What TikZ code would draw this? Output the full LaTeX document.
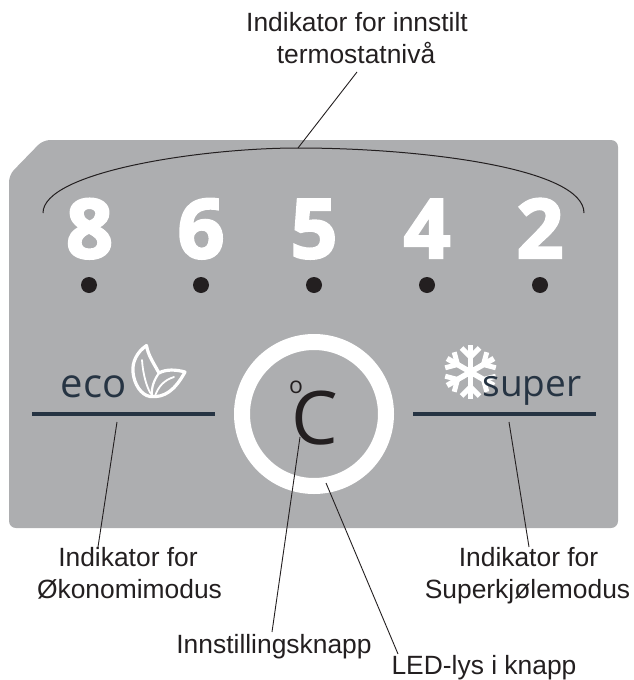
\documentclass[tikz,border=0pt]{standalone}
\usepackage{fontspec}
\setmainfont{Liberation Sans}
\newfontfamily\dispfont{Open Sans}
\newfontfamily\heavyfont[FakeBold=3]{Open Sans Bold}
\definecolor{panelgray}{HTML}{ADAEB0}
\definecolor{inkblack}{HTML}{231F20}
\definecolor{navyink}{HTML}{263443}
\tikzset{
  x=1pt,y=-1pt,
  label text/.style={anchor=base,inner sep=0pt,text=inkblack,font=\fontsize{26.4}{30}\selectfont},
  digit/.style={anchor=base,inner sep=0pt,text=white,font=\heavyfont\fontsize{82}{90}\selectfont},
  led/.style={circle,fill=inkblack,minimum size=16pt,inner sep=0pt},
  leader/.style={draw=inkblack,line width=0.9pt},
  bar/.style={draw=navyink,line width=4pt},
  brand/.style={anchor=base,inner sep=0pt,text=navyink},
  iconline/.style={draw=white,line join=round,line cap=round},
}
\begin{document}
\begin{tikzpicture}
\useasboundingbox (0,0) rectangle (634,680);
% panel
\fill[panelgray,rounded corners=7pt] (43,140) -- (618,140) -- (618,528) -- (9,528) -- (9,175) -- cycle;
% digits
\node[digit] (d8) at (89.5,258) {8};
\node[digit] (d6) at (201,258) {6};
\node[digit] (d5) at (314,258) {5};
\node[digit] (d4) at (427,258) {4};
\node[digit] (d2) at (540,258) {2};
\foreach \n/\x in {a/89,b/201,c/314,e/427,f/540}{\node[led] (led\n) at (\x,285) {};}
% bracket
\draw[inkblack,line width=1pt] (43,213) .. controls (43,172) and (200,148) .. (298,148)
   coordinate (archtop) .. controls (420,148) and (584,168) .. (584,213);
% eco
\node[brand,font=\dispfont\fontsize{40}{44}\selectfont] (eco) at (93.5,397) {eco};
\draw[iconline,line width=3.2pt] (146.5,345.5) .. controls (137,352) and (132,362) .. (133,372)
   .. controls (134,384) and (141,395) .. (150,396.5)
   .. controls (165,398) and (175,390) .. (185,372)
   .. controls (176,369.5) and (166,369) .. (159,373)
   .. controls (153,362) and (148,355) .. (146.5,345.5) -- cycle;
\draw[iconline,line width=1.8pt] (142,360) .. controls (143,375) and (147,388) .. (151,394);
\draw[iconline,line width=2.2pt] (159,373) .. controls (154,380) and (151,388) .. (152,396);
\draw[iconline,line width=1.8pt] (174,377) .. controls (164,380) and (158,387) .. (155,396);
\draw[bar] (32,414) -- (215,414);
% super
\begin{scope}[shift={(470.5,372)}]
\foreach \a in {90,30,-30,-90,-150,150}{
  \begin{scope}[rotate=\a]
    \draw[iconline,line width=5.5pt,line cap=butt] (0,0) -- (27,0);
    \draw[iconline,line width=5pt,line cap=butt] (15,0) -- (24,9);
    \draw[iconline,line width=5pt,line cap=butt] (15,0) -- (24,-9);
  \end{scope}
}
\end{scope}
\node[brand,font=\dispfont\fontsize{37}{40}\selectfont] (super) at (532,396) {super};
\draw[bar] (413,414) -- (596,414);
% ring and degree
\node[circle,draw=white,line width=16pt,minimum size=144pt,inner sep=0pt] (ring) at (314,414) {};
\node[anchor=base,inner sep=0pt,text=inkblack,font=\dispfont\fontsize{74}{80}\selectfont] (cel) at (314.5,444) {C};
\node[anchor=base,inner sep=0pt,text=inkblack,font=\dispfont\fontsize{23}{24}\selectfont] (deg) at (296,393.5) {o};
% labels
\node[label text] (t1) at (357,31) {Indikator for innstilt};
\node[label text] (t2) at (356,63) {termostatnivå};
\node[label text] (e1) at (128,566) {Indikator for};
\node[label text] (e2) at (129.5,598) {Økonomimodus};
\node[label text] (s1) at (528.5,566) {Indikator for};
\node[label text] (s2) at (527.5,598) {Superkjølemodus};
\node[label text] (k) at (274,653) {Innstillingsknapp};
\node[label text] (l) at (484,674.4) {LED-lys i knapp};
% leader ends
\coordinate (tfoot) at (357,72);
\coordinate (ecob) at (117,422);
\coordinate (ecot) at (98,547);
\coordinate (supb) at (509,422);
\coordinate (supt) at (529,547);
\coordinate (cb) at (300,437);
\coordinate (kt) at (272,632);
\coordinate (ringb) at (326,483);
\coordinate (lt) at (398,654);
\draw[leader] (tfoot) -- (archtop);
\draw[leader] (ecob) -- (ecot);
\draw[leader] (supb) -- (supt);
\draw[leader] (cb) -- (kt);
\draw[leader] (ringb) -- (lt);
\end{tikzpicture}
\end{document}
